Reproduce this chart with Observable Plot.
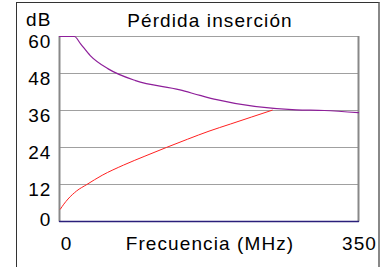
<!DOCTYPE html>
<html>
<head>
<meta charset="utf-8">
<script src="https://cdn.jsdelivr.net/npm/d3@7"></script>
<script src="https://cdn.jsdelivr.net/npm/@observablehq/plot@0.6"></script>
<style>
  html, body { margin: 0; padding: 0; background: #fff; }
  #wrap { position: relative; width: 390px; height: 267px; overflow: hidden; }
  #frame { position: absolute; left: 16px; top: 2px; width: 361px; height: 300px;
           border-left: 1px solid #333; border-top: 1px solid #333; border-right: 2px solid #888; }
  #chart { position: absolute; left: 0; top: 0; }
  #chart svg text { letter-spacing: 1.1px; }
</style>
</head>
<body>
<div id="wrap"><div id="frame"></div><div id="chart"></div></div>
<script>
const title = "Pérdida inserción";
const yUnit = "dB";
const xLabel = "Frecuencia (MHz)";
const yTicks = [0, 12, 24, 36, 48, 60];
const xTicks = [0, 350];

// Purple series
const purpleFreq = [0, 17.5, 24.5, 36, 57, 89, 141, 164.5, 184, 277, 310, 350];
const purpleDb   = [60, 60, 57.7, 53.8, 49.5, 45.7, 42.7, 40.9, 39.5, 36.2, 36.0, 35.3];
// Red series
const redFreq = [1, 5, 10, 20, 32, 50, 75, 100, 125, 150, 175, 200, 225, 249];
const redDb   = [4, 5.6, 7.3, 9.9, 12, 15, 18.3, 21.2, 24, 26.7, 29.3, 31.6, 33.9, 36.1];
// Blue series
const blueFreq = [0, 350];
const blueDb   = [0, 0];

const purple = purpleFreq.map((f, i) => ({f, v: purpleDb[i]}));
const red = redFreq.map((f, i) => ({f, v: redDb[i]}));
const blue = blueFreq.map((f, i) => ({f, v: blueDb[i]}));

const font = "Arial, 'Liberation Sans', sans-serif";

const chart = Plot.plot({
  width: 390, height: 267,
  marginLeft: 59, marginRight: 32, marginTop: 36, marginBottom: 46,
  x: {domain: [0, 350]},
  y: {domain: [0, 60]},
  style: {fontFamily: font, fontSize: "19px", background: "transparent", color: "#000"},
  marks: [
    Plot.gridY(yTicks, {stroke: "#a0a0a0", strokeOpacity: 1, strokeWidth: 1}),
    Plot.ruleX([0, 350], {stroke: "#888", strokeWidth: 2}),
    Plot.line(red, {x: "f", y: "v", stroke: "#ff2020", strokeWidth: 1, curve: "monotone-x"}),
    Plot.line(purple, {x: "f", y: "v", stroke: "#8e1f9a", strokeWidth: 1.2, curve: "monotone-x"}),
    Plot.line(blue, {x: "f", y: "v", stroke: "#2a1f7a", strokeWidth: 1.5}),
    Plot.axisY(yTicks.filter(d => d > 0), {tickSize: 0, tickPadding: 8, dy: 5, label: null, fontSize: 19}),
    Plot.axisY([0], {tickSize: 0, tickPadding: 8, dy: -2, label: null, fontSize: 19}),
    Plot.axisX([xTicks[0]], {tickSize: 0, tickPadding: 15, dx: 7, label: null, fontSize: 19}),
    Plot.axisX([xTicks[1]], {tickSize: 0, tickPadding: 15, dx: 1, label: null, fontSize: 19}),
    Plot.text([xLabel], {frameAnchor: "bottom", lineAnchor: "top", dy: 15, dx: 1, fontSize: 19}),
    Plot.text([title], {frameAnchor: "top", lineAnchor: "bottom", dy: -10, dx: 1, fontSize: 19}),
    Plot.text([yUnit], {frameAnchor: "top-left", textAnchor: "end", lineAnchor: "bottom", dx: -8, dy: -11, fontSize: 19})
  ]
});
document.getElementById("chart").appendChild(chart);
</script>
</body>
</html>
